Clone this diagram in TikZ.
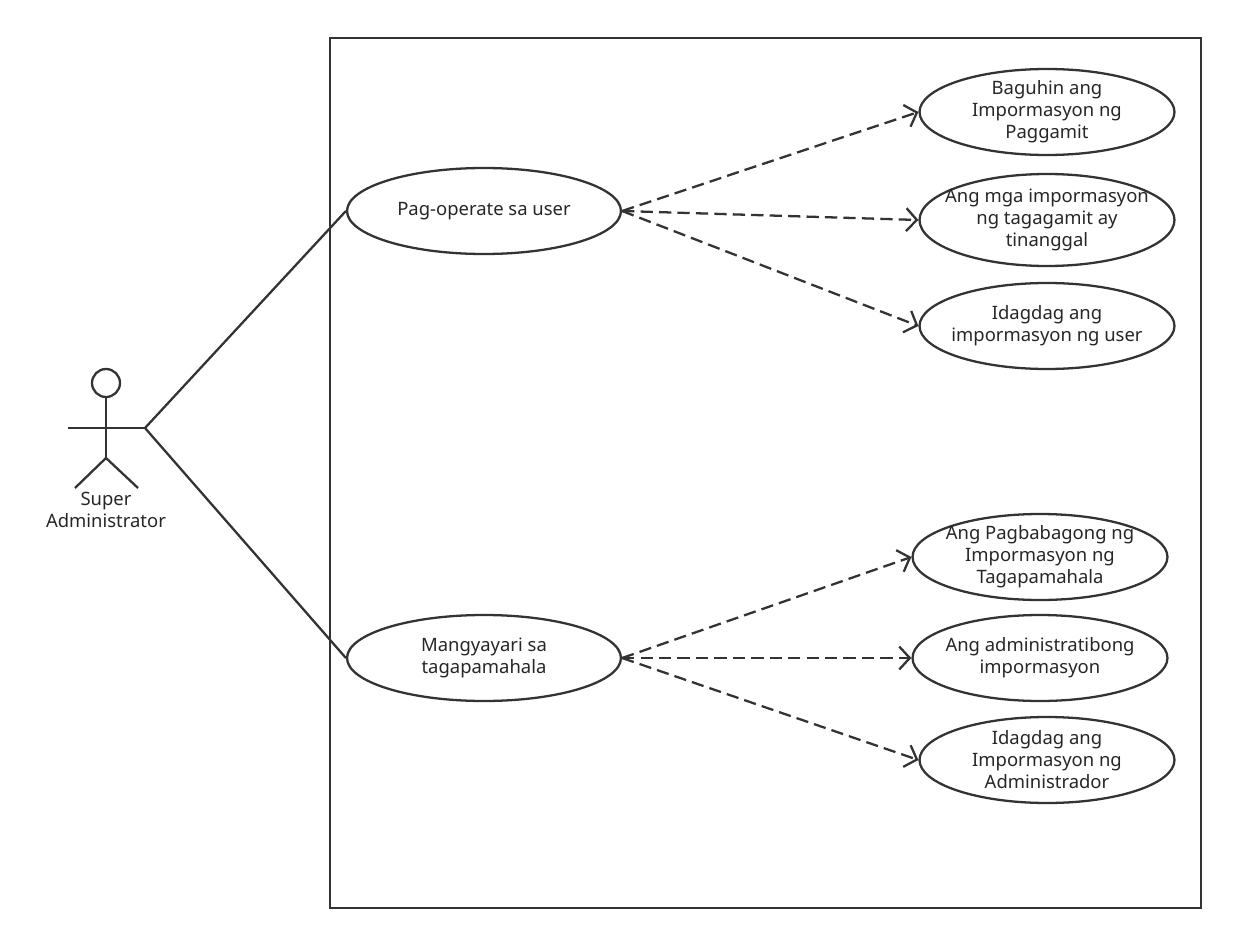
\documentclass[tikz,border=0pt]{standalone}
\usepackage{fontspec}
\setmainfont{Noto Sans}
\usetikzlibrary{arrows.meta}
\usetikzlibrary{shapes.geometric}
\usetikzlibrary{positioning}

\tikzset{
  usecase/.style={ellipse, draw=black!80, line width=1.3pt, minimum width=5.1cm, minimum height=1.72cm,
    inner xsep=-14pt, inner ysep=-6pt, align=center, font=\fontsize{10.5}{12.5}\selectfont, text=black!85},
  assoc/.style={draw=black!80, line width=1.3pt},
  incl/.style={draw=black!80, line width=1.3pt, dash pattern=on 7pt off 3.5pt, -{Straight Barb[length=6pt,width=13pt]}}
}

\begin{document}
\begin{tikzpicture}[x=0.02cm, y=-0.02cm]
  \useasboundingbox (0,0) rectangle (1238,946);

  % system boundary
  \draw [line width=1.3pt, color=black!80] (330,38) rectangle (1201,908);

  % actor
  \begin{scope}[line width=1.3pt, color=black!80]
    \draw (106,383) circle (14);
    \draw (106,397) -- (106,458);
    \draw (68,428) -- (145,428);
    \draw (106,458) -- (75,488);
    \draw (106,458) -- (138,488);
  \end{scope}
  \coordinate (hand) at (145,428);
  \node [align=center, font=\fontsize{10.5}{12.5}\selectfont, text=black!85] (admin) at (106,510) {Super\\Administrator};

  % use cases
  \node [usecase, minimum width=5.48cm] (user) at (484,211) {Pag-operate sa user};
  \node [usecase, minimum width=5.48cm] (mgr) at (484,658) {Mangyayari sa\\tagapamahala};

  \node [usecase] (u1) at (1047,112) {Baguhin ang\\Impormasyon ng\\Paggamit};
  \node [usecase, minimum height=1.84cm] (u2) at (1047,220) {Ang mga impormasyon\\ng tagagamit ay\\tinanggal};
  \node [usecase] (u3) at (1047,326) {Idagdag ang\\impormasyon ng user};

  \node [usecase] (m1) at (1040,557) {Ang Pagbabagong ng\\Impormasyon ng\\Tagapamahala};
  \node [usecase] (m2) at (1040,658) {Ang administratibong\\impormasyon};
  \node [usecase] (m3) at (1047,760) {Idagdag ang\\Impormasyon ng\\Administrador};

  % connectors
  \draw [assoc] (hand) -- (user.west);
  \draw [assoc] (hand) -- (mgr.west);

  \foreach \t in {u1,u2,u3}
    \draw [incl] (user.east) -- (\t.west);
  \foreach \t in {m1,m2,m3}
    \draw [incl] (mgr.east) -- (\t.west);
\end{tikzpicture}
\end{document}
